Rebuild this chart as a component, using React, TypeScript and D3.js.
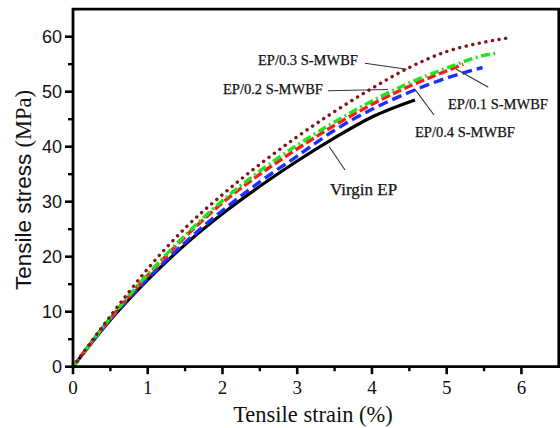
import React from "react";
import * as d3 from "d3";

const virginStrain = [0, 0.5, 1.0, 1.5, 2.0, 2.5, 3.0, 3.5, 4.0, 4.575];
const virginStress = [0, 8.5, 15.8, 22.2, 27.8, 32.8, 37.4, 41.6, 45.4, 48.5];

const ep01Strain = [0, 0.5, 1.0, 1.5, 2.0, 2.5, 3.0, 3.5, 4.0, 4.5, 5.0, 5.22];
const ep01Stress = [0, 8.8, 16.6, 23.6, 29.8, 35.0, 39.6, 43.9, 47.7, 51.0, 53.8, 55.0];

const ep02Strain = [0, 0.5, 1.0, 1.5, 2.0, 2.5, 3.0, 3.5, 4.0, 4.5, 5.0, 5.5, 5.67];
const ep02Stress = [0, 8.9, 16.8, 23.9, 30.2, 35.6, 40.3, 44.5, 48.3, 51.6, 54.3, 56.6, 57.0];

const ep03Strain = [0, 0.5, 1.0, 1.5, 2.0, 2.5, 3.0, 3.5, 4.0, 4.5, 5.0, 5.5, 5.79];
const ep03Stress = [0, 9.2, 17.8, 25.2, 31.3, 36.8, 41.8, 46.4, 50.6, 54.4, 57.3, 59.0, 59.7];

const ep04Strain = [0, 0.5, 1.0, 1.5, 2.0, 2.5, 3.0, 3.5, 4.0, 4.5, 5.0, 5.48];
const ep04Stress = [0, 8.6, 16.0, 22.6, 28.4, 33.6, 38.3, 43.0, 46.8, 49.9, 52.5, 54.4];

const xMajorTicks = [0, 1, 2, 3, 4, 5, 6];
const xMinorTicks = [0.5, 1.5, 2.5, 3.5, 4.5, 5.5];
const yMajorTicks = [0, 10, 20, 30, 40, 50, 60];
const yMinorTicks = [5, 15, 25, 35, 45, 55];

const seriesNames = ["Virgin EP", "EP/0.4 S-MWBF", "EP/0.1 S-MWBF", "EP/0.2 S-MWBF", "EP/0.3 S-MWBF"];

export default function App() {
  const W = 560, H = 428;
  const L = 73, R = 558.8, T = 9.2, B = 366.7;
  const x = d3.scaleLinear().domain([0, 6.5]).range([L, R]);
  const y = d3.scaleLinear().domain([0, 65]).range([B, T]);
  const line = d3
    .line<[number, number]>()
    .x((d) => x(d[0]))
    .y((d) => y(d[1]))
    .curve(d3.curveMonotoneX);
  const mk = (xs: number[], ys: number[]) => xs.map((v, i) => [v, ys[i]] as [number, number]);

  const series = [
    { name: seriesNames[0], d: mk(virginStrain, virginStress), color: "#000000", dash: "none", w: 3.2, cap: "butt" },
    { name: seriesNames[1], d: mk(ep04Strain, ep04Stress), color: "#1a30ff", dash: "10 5", w: 3.4, cap: "butt" },
    { name: seriesNames[2], d: mk(ep01Strain, ep01Stress), color: "#ff1a1a", dash: "9 3.5", w: 3.4, cap: "butt" },
    { name: seriesNames[3], d: mk(ep02Strain, ep02Stress), color: "#1ee61e", dash: "9 3.5 2 3.5", w: 3.4, cap: "butt" },
    { name: seriesNames[4], d: mk(ep03Strain, ep03Stress), color: "#801414", dash: "0.1 6.6", w: 3.4, cap: "round" },
  ];

  const serif = "'Liberation Serif', 'Times New Roman', serif";
  const sans = "'Liberation Sans', Arial, sans-serif";

  const labels = [
    { text: seriesNames[4], tx: 258, ty: 64.5, size: 14.5, l: [365, 63.3, 406.7, 69.3] },
    { text: seriesNames[3], tx: 223, ty: 93.5, size: 14.5, l: [328, 90.7, 388, 89.5] },
    { text: seriesNames[2], tx: 448, ty: 108.5, size: 14.5, l: [456, 69, 488.3, 87.3] },
    { text: seriesNames[1], tx: 415, ty: 136.8, size: 14.5, l: [415, 89.3, 434, 115] },
    { text: seriesNames[0], tx: 330, ty: 195, size: 17, l: [329.3, 146.7, 345, 170] },
  ];

  return (
    <svg width={W} height={H} style={{ position: "absolute", left: 0, top: 0, background: "#fff" }}>
      <rect x={0} y={0} width={W} height={H} fill="#fff" />
      {series.map((s) => (
        <path
          key={s.name}
          d={line(s.d) || ""}
          fill="none"
          stroke={s.color}
          strokeWidth={s.w}
          strokeDasharray={s.dash}
          strokeLinecap={s.cap as any}
        />
      ))}
      {labels.map((lb) => (
        <g key={lb.text}>
          <line x1={lb.l[0]} y1={lb.l[1]} x2={lb.l[2]} y2={lb.l[3]} stroke="#333" strokeWidth={1.1} />
          <text
            x={lb.tx}
            y={lb.ty}
            fontFamily={serif}
            fontSize={lb.size}
            fill="#111"
            stroke="#111"
            strokeWidth={0.25}
          >
            {lb.text}
          </text>
        </g>
      ))}
      {/* frame */}
      <path d={`M${L},${B}V${T}H${R}V${B}H${L}`} fill="none" stroke="#000" strokeWidth={2.8} />
      {/* x ticks */}
      {xMajorTicks.map((t) => (
        <g key={"xm" + t}>
          <line x1={x(t)} x2={x(t)} y1={B} y2={B + 7.5} stroke="#000" strokeWidth={2.6} />
          <text x={x(t)} y={394} textAnchor="middle" fontFamily={serif} fontSize={19} fill="#111">
            {t}
          </text>
        </g>
      ))}
      {xMinorTicks.map((t) => (
        <line key={"xn" + t} x1={x(t)} x2={x(t)} y1={B} y2={B + 4.5} stroke="#000" strokeWidth={2.4} />
      ))}
      {/* y ticks */}
      {yMajorTicks.map((t) => (
        <g key={"ym" + t}>
          <line x1={L - 8} x2={L} y1={y(t)} y2={y(t)} stroke="#000" strokeWidth={2.6} />
          <text x={L - 11} y={y(t) + 6.5} textAnchor="end" fontFamily={sans} fontSize={18} fill="#111">
            {t}
          </text>
        </g>
      ))}
      {yMinorTicks.map((t) => (
        <line key={"yn" + t} x1={L - 5} x2={L} y1={y(t)} y2={y(t)} stroke="#000" strokeWidth={2.4} />
      ))}
      {/* axis titles */}
      <text x={313} y={421.5} textAnchor="middle" fontFamily={serif} fontSize={22.5} fill="#111">
        Tensile strain (%)
      </text>
      <text transform="translate(31,190) rotate(-90)" textAnchor="middle" fontSize={22.5} fill="#111">
        <tspan fontFamily={sans}>Tensile stress </tspan>
        <tspan fontFamily={serif}>(MPa)</tspan>
      </text>
    </svg>
  );
}
